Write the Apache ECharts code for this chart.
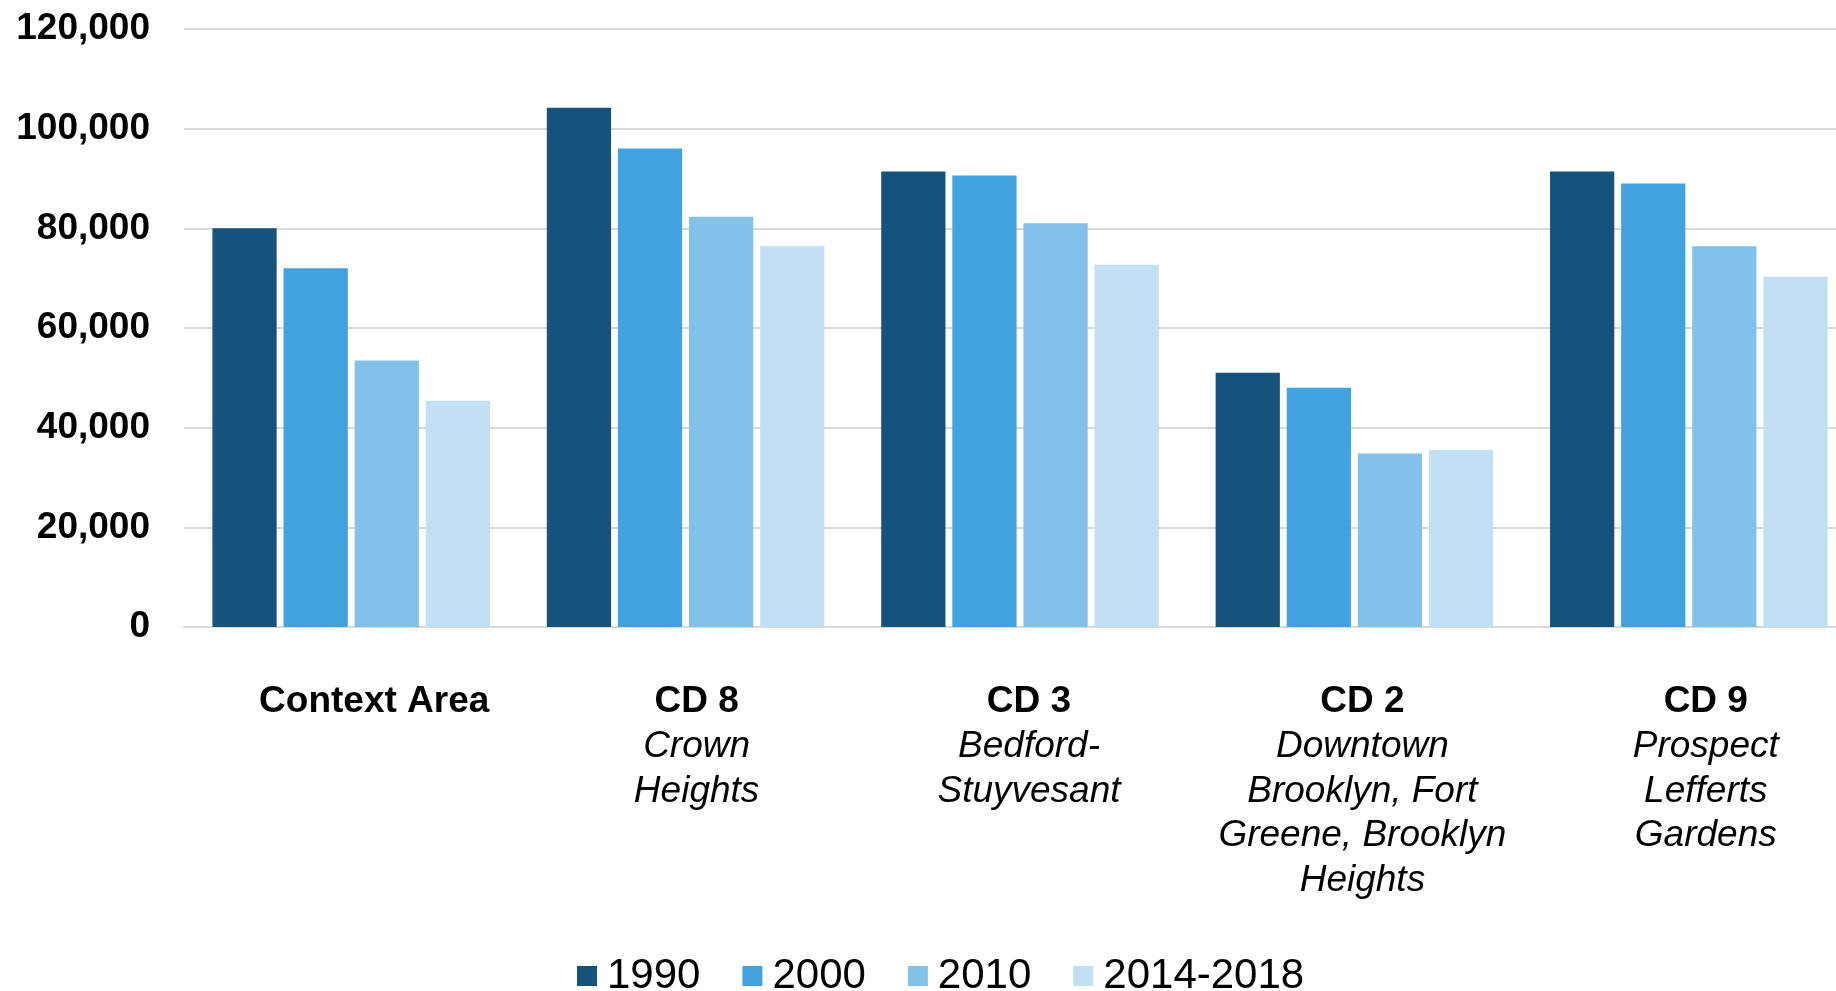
<!DOCTYPE html>
<html>
<head>
<meta charset="utf-8">
<style>
  html, body { margin: 0; padding: 0; background: #ffffff; }
  #chart { width: 1836px; height: 991px; }
</style>
<script src="https://cdn.jsdelivr.net/npm/echarts@6/dist/echarts.min.js"></script>
</head>
<body>
<div id="chart"></div>
<script>
// Population by area, 1990 to 2014-2018
const areaCodes = ['Context Area', 'CD 8', 'CD 3', 'CD 2', 'CD 9'];
const areaNames = [
  '',
  'Crown\nHeights',
  'Bedford-\nStuyvesant',
  'Downtown\nBrooklyn, Fort\nGreene, Brooklyn\nHeights',
  'Prospect\nLefferts\nGardens'
];
const years = ['1990', '2000', '2010', '2014-2018'];
const pop1990 = [80000, 104200, 91400, 51000, 91400];
const pop2000 = [72000, 96000, 90600, 48000, 89000];
const pop2010 = [53500, 82300, 81000, 34800, 76400];
const pop2014 = [45400, 76400, 72700, 35500, 70300];
const yTicks = { min: 0, max: 120000, step: 20000 };

// horizontal nudge (px) of each category label block to the right of its band centre
const labelShift = [23, 11, 9, 8, 17];

const colors = ['#15527c', '#41a2df', '#82c1ea', '#c1e0f4'];
const seriesValues = [pop1990, pop2000, pop2010, pop2014];
const FONT = '"Liberation Sans", Arial, sans-serif';

// one bold and one italic rich style per category, each padded on the left
const rich = {};
labelShift.forEach((s, i) => {
  rich['c' + i] = { fontFamily: FONT, fontSize: 37, fontWeight: 'bold', color: '#000000', lineHeight: 44.5, padding: [0, 0, 0, 2 * s] };
  rich['n' + i] = { fontFamily: FONT, fontSize: 37, fontStyle: 'italic', color: '#000000', lineHeight: 44.5, padding: [0, 0, 0, 2 * s] };
});

const chart = echarts.init(document.getElementById('chart'), null, { renderer: 'canvas' });

chart.setOption({
  animation: false,
  backgroundColor: '#ffffff',
  textStyle: { fontFamily: FONT },
  // the plot runs a little past the right edge of the canvas
  grid: { left: 184, width: 1672, top: 29, bottom: 364, containLabel: false, outerBoundsMode: 'none' },
  legend: {
    data: years,
    left: 572,
    top: 950,
    itemWidth: 20,
    itemHeight: 20,
    itemGap: 42,
    icon: 'rect',
    textStyle: { fontFamily: FONT, fontSize: 42, color: '#000000', padding: [0, 0, 0, 5] }
  },
  xAxis: {
    type: 'category',
    data: areaCodes,
    axisTick: { show: false },
    axisLine: { show: true, lineStyle: { color: '#d9d9d9', width: 2 } },
    axisLabel: {
      interval: 0,
      margin: 53,
      formatter: function (value, idx) {
        const sub = areaNames[idx];
        const head = '{c' + idx + '|' + value + '}';
        if (!sub) return head;
        return head + '\n' + sub.split('\n').map(s => '{n' + idx + '|' + s + '}').join('\n');
      },
      rich: rich
    }
  },
  yAxis: {
    type: 'value',
    min: yTicks.min,
    max: yTicks.max,
    interval: yTicks.step,
    axisLine: { show: false },
    axisTick: { show: false },
    splitLine: { lineStyle: { color: '#d9d9d9', width: 2 } },
    axisLabel: {
      margin: 34,
      padding: [4, 0, 0, 0],
      fontFamily: FONT,
      fontSize: 37,
      fontWeight: 'bold',
      color: '#000000',
      formatter: v => v.toLocaleString('en-US')
    }
  },
  series: years.map((y, i) => ({
    name: y,
    type: 'bar',
    data: seriesValues[i],
    barGap: '10.7%',
    barCategoryGap: '17%',
    itemStyle: { color: colors[i] }
  }))
});
</script>
</body>
</html>
